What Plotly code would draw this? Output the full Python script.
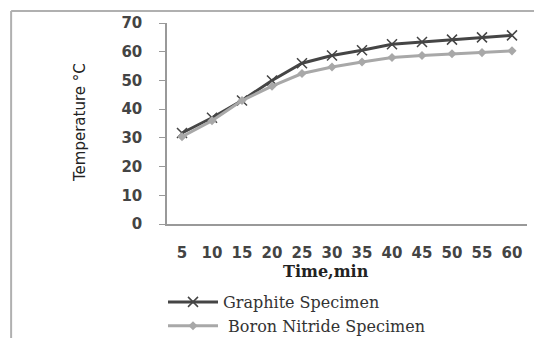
import plotly.graph_objects as go

time_labels = ["5", "10", "15", "20", "25", "30", "35", "40", "45", "50", "55", "60"]
graphite = [31.7, 37, 43, 50, 56, 58.7, 60.5, 62.6, 63.4, 64.2, 65, 65.7]
boron_nitride = [30.4, 36, 43, 48, 52.4, 54.7, 56.4, 58, 58.7, 59.3, 59.7, 60.3]

fig = go.Figure()
fig.add_trace(go.Scatter(
    x=time_labels, y=graphite, mode="lines+markers", name="Graphite Specimen",
    line=dict(color="#454545", width=3),
    marker=dict(symbol="x-thin", size=10, line=dict(color="#454545", width=1.5)),
))
fig.add_trace(go.Scatter(
    x=time_labels, y=boron_nitride, mode="lines+markers", name=" Boron Nitride Specimen",
    line=dict(color="#a8a8a8", width=3),
    marker=dict(symbol="diamond", size=7, color="#a8a8a8"),
))

fig.update_layout(
    width=534, height=338,
    margin=dict(l=167, r=7, t=23, b=114, autoexpand=False),
    paper_bgcolor="white", plot_bgcolor="white",
    showlegend=True,
    legend=dict(
        x=(163 - 167) / 360, y=(224 - 285) / 201, xanchor="left", yanchor="top",
        font=dict(family="DejaVu Serif", size=16, color="#333333"),
        bgcolor="rgba(0,0,0,0)", tracegroupgap=0, itemwidth=50,
    ),
    xaxis=dict(
        type="category", range=[-0.5, 11.5],
        showline=True, linecolor="#999999", linewidth=1.5,
        showgrid=False, ticks="",
        tickfont=dict(family="DejaVu Sans", size=15, color="#444444", weight="bold"),
        ticklabelstandoff=14,
    ),
    yaxis=dict(
        range=[0, 70], dtick=10,
        showline=True, linecolor="#999999", linewidth=1.5,
        showgrid=False, zeroline=False,
        ticks="outside", ticklen=6, tickcolor="#999999",
        tickfont=dict(family="DejaVu Sans", size=15, color="#444444", weight="bold"),
        ticklabelstandoff=14,
    ),
    annotations=[
        dict(text="<b>Time,min</b>", xref="paper", yref="paper",
             x=(326 - 167) / 360, y=(224 - 271) / 201, xanchor="center", yanchor="middle",
             showarrow=False, font=dict(family="DejaVu Serif", size=16, color="#222222")),
        dict(text="Temperature °C", xref="paper", yref="paper", textangle=-90,
             x=(80 - 167) / 360, y=(224 - 123) / 201, xanchor="center", yanchor="middle",
             showarrow=False, font=dict(family="DejaVu Sans", size=15, color="#222222")),
    ],
    shapes=[
        dict(type="line", xref="paper", yref="paper", x0=-0.433, x1=1.03, y0=1.06, y1=1.06,
             line=dict(color="#b0b0b0", width=2)),
        dict(type="line", xref="paper", yref="paper", x0=-0.433, x1=-0.433, y0=1.06, y1=-0.6,
             line=dict(color="#b0b0b0", width=2)),
    ],
)

fig.write_html("out.html", config={"displayModeBar": False},
               post_script="document.body.style.margin='0';document.body.style.padding='0';")
